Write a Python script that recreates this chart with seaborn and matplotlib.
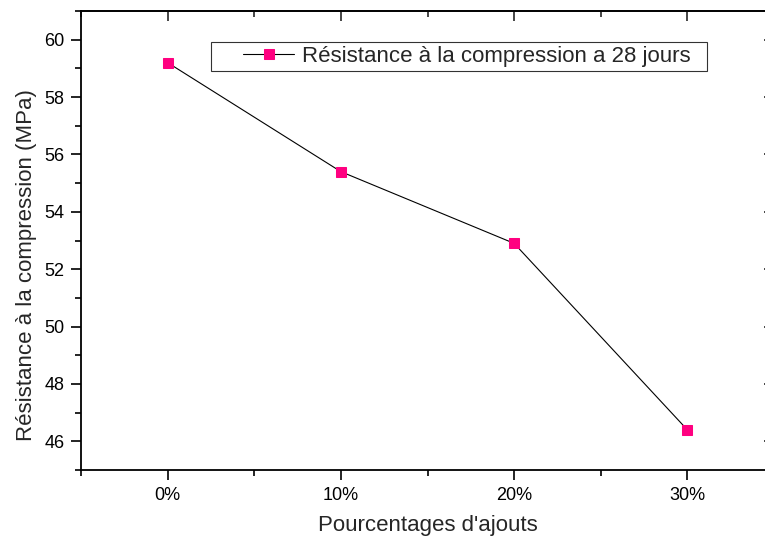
import pandas as pd
import matplotlib
matplotlib.use("Agg")
import matplotlib.pyplot as plt
import seaborn as sns
from matplotlib.ticker import MultipleLocator
from matplotlib.legend_handler import HandlerLine2D

# données
categories = ["0%", "10%", "20%", "30%"]
resistance = [59.2, 55.4, 52.9, 46.4]

df = pd.DataFrame({"pos": range(len(categories)), "resistance": resistance})

sns.set_style("ticks")
plt.rcParams["font.family"] = ["Liberation Sans", "DejaVu Sans"]


# poignée de légende décalée vers la droite (comme dans Origin)
class ShiftedLine(HandlerLine2D):
    def create_artists(self, legend, orig_handle, xdescent, ydescent,
                       width, height, fontsize, trans):
        arts = super().create_artists(legend, orig_handle, xdescent, ydescent,
                                      width, height, fontsize, trans)
        x0 = -xdescent + 0.36 * width
        x1 = -xdescent + width
        for a in arts:
            n = len(a.get_xdata())
            if n == 3:
                a.set_xdata([x0, (x0 + x1) / 2, x1])
            elif n == 2:
                a.set_xdata([x0, x1])
            elif n == 1:
                a.set_xdata([(x0 + x1) / 2])
        return arts


fig = plt.figure(figsize=(7.65, 5.38), dpi=100)
ax = fig.add_axes([81 / 765, 68 / 538, 693 / 765, 459 / 538])

sns.lineplot(
    data=df, x="pos", y="resistance", ax=ax,
    color="black", linewidth=0.8,
    marker="s", markersize=7.5, markerfacecolor="#FF0080", markeredgecolor="#FF0080",
    label="Résistance à la compression a 28 jours  ",
)

ax.set_xlim(-0.5, 3.5)
ax.set_ylim(45, 61)
ax.set_xticks(range(len(categories)))
ax.set_xticklabels(categories)
ax.set_xticks([-0.5, 0.5, 1.5, 2.5, 3.5], minor=True)
ax.yaxis.set_major_locator(MultipleLocator(2))
ax.yaxis.set_minor_locator(MultipleLocator(1))

for s in ax.spines.values():
    s.set_linewidth(1.3)
    s.set_color("black")

ax.tick_params(axis="both", which="both", direction="out", width=1.2,
               labelsize=13, colors="black")
ax.tick_params(which="major", length=7)
ax.tick_params(which="minor", length=4)
ax.tick_params(axis="x", which="major", pad=5)
ax.tick_params(axis="y", which="major", pad=5)

# ticks du haut et de droite vers l'intérieur
top = ax.secondary_xaxis("top")
top.set_xticks(range(len(categories)))
top.set_xticks([-0.5, 0.5, 1.5, 2.5, 3.5], minor=True)
top.tick_params(which="both", direction="in", width=1.2, labeltop=False)
top.tick_params(which="major", length=7)
top.tick_params(which="minor", length=4)
top.spines["top"].set_linewidth(1.3)

right = ax.secondary_yaxis("right")
right.yaxis.set_major_locator(MultipleLocator(2))
right.tick_params(which="major", direction="in", width=1.2, length=7, labelright=False)
right.spines["right"].set_linewidth(1.3)

ax.set_xlabel("Pourcentages d'ajouts", fontsize=16, labelpad=8)
ax.set_ylabel("Résistance à la compression (MPa)", fontsize=16)
ax.yaxis.set_label_coords(-0.063, 205 / 459)

leg = ax.legend(loc="upper left", bbox_to_anchor=(130 / 693, 428 / 459), fontsize=16,
                frameon=True, fancybox=False, edgecolor="black",
                handlelength=3.55, borderpad=0.18, handletextpad=0.36,
                borderaxespad=0, handler_map={matplotlib.lines.Line2D: ShiftedLine()})
leg.get_frame().set_linewidth(0.8)

fig.savefig("out.png", dpi=100)
